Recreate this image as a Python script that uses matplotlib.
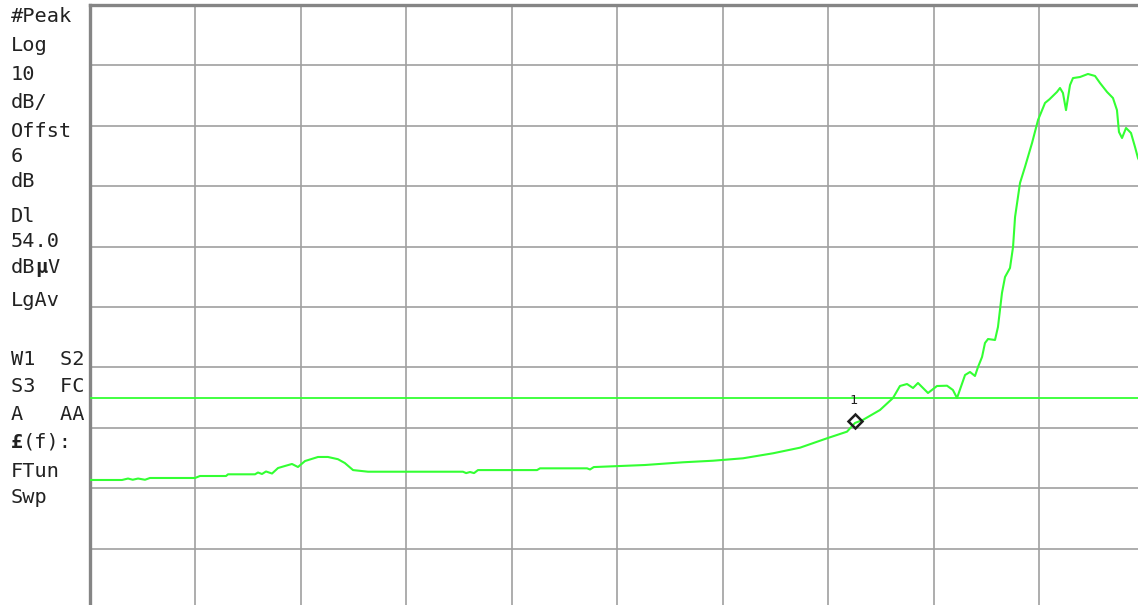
import matplotlib
matplotlib.use("Agg")
import matplotlib.pyplot as plt

# ---- data (x in screen divisions, y in dBµV) ----
freq_div = [0.0, 0.308, 0.365, 0.41, 0.46, 0.526, 0.573, 1.0, 1.047, 1.294, 1.313, 1.569,
            1.597, 1.635, 1.673, 1.73, 1.787, 1.853, 1.919, 1.976, 2.043, 2.166, 2.26,
            2.355, 2.42, 2.498, 2.64, 3.54, 3.57, 3.607, 3.645, 3.682, 4.242, 4.27, 4.716,
            4.744, 4.78, 5.265, 5.626, 5.91, 6.194, 6.479, 6.735, 6.99, 7.18, 7.256, 7.33,
            7.493, 7.616, 7.682, 7.749, 7.806, 7.853, 7.948, 8.033, 8.128, 8.184, 8.223,
            8.299, 8.346, 8.393, 8.422, 8.46, 8.488, 8.517, 8.583, 8.611, 8.649, 8.678,
            8.725, 8.754, 8.773, 8.82, 8.867, 8.934, 8.991, 9.057, 9.10, 9.17, 9.199,
            9.227, 9.256, 9.294, 9.322, 9.389, 9.464, 9.531, 9.578, 9.645, 9.701, 9.739,
            9.758, 9.787, 9.825, 9.872, 9.91, 9.938, 10.0]
level_dbuv = [40.36, 40.36, 40.6, 40.4, 40.6, 40.4, 40.69, 40.69, 41.02, 41.02, 41.30, 41.30,
              41.6, 41.35, 41.77, 41.43, 42.34, 42.68, 43.01, 42.51, 43.5, 44.17, 44.17,
              43.8, 43.17, 42.0, 41.73, 41.73, 41.5, 41.68, 41.5, 42.0, 42.0, 42.29, 42.29,
              42.1, 42.5, 42.84, 43.29, 43.55, 43.95, 44.78, 45.71, 47.26, 48.36, 49.8, 50.3,
              51.95, 53.93, 55.92, 56.25, 55.59, 56.42, 54.76, 55.92, 55.97, 55.26, 53.93,
              57.74, 58.24, 57.58, 59.07, 60.72, 63.04, 63.7, 63.54, 65.69, 71.32, 73.97,
              75.46, 78.94, 83.9, 89.53, 92.18, 96.15, 99.97, 102.78, 103.4, 104.6, 105.26,
              104.43, 101.6, 105.75, 106.9, 107.08, 107.58, 107.25, 106.09, 104.6, 103.6, 101.6,
              97.98, 96.98, 98.64, 97.81, 95.5, 93.67, 91.5]

display_line = 54.0
marker_x = 7.256
marker_y = 50.2
marker_label = "1"

ref_level = 119.0
db_per_div = 10.0
n_div = 10

side_labels = ["#Peak", "Log", "10", "dB/", "Offst", "6", "dB", "Dl", "54.0", None,
               "LgAv", "W1  S2", "S3  FC", "A   AA", None, "FTun", "Swp"]
side_baselines = [22, 51, 80, 108, 137, 162, 187, 222, 247, 273,
                  306, 365, 392, 420, 448, 477, 503]

W, H = 1138, 605
fig = plt.figure(figsize=(W / 100, H / 100), dpi=100)
fig.patch.set_facecolor("white")

left_px, top_px = 89.5, 5.0
div_w, div_h = 105.5, 60.4
ax = fig.add_axes([left_px / W, (H - top_px - n_div * div_h) / H,
                   n_div * div_w / W, n_div * div_h / H])
ax.set_xlim(0, n_div)
ax.set_ylim(ref_level - n_div * db_per_div, ref_level)
ax.set_xticks(range(0, n_div + 1))
ax.set_yticks([ref_level - k * db_per_div for k in range(n_div + 1)])
ax.tick_params(length=0, labelbottom=False, labelleft=False)
ax.grid(True, color="#a0a0a0", linewidth=1.2)
ax.set_axisbelow(True)
for s in ["left", "top"]:
    ax.spines[s].set_color("#858585")
    ax.spines[s].set_linewidth(2.4)
for s in ["right", "bottom"]:
    ax.spines[s].set_visible(False)

green = "#33ff33"
ax.axhline(display_line, color=green, linewidth=1.3, zorder=3)
ax.plot(freq_div, level_dbuv, color=green, linewidth=1.5, zorder=4)
ax.plot([marker_x], [marker_y], marker="D", ms=7, mfc="none", mec="#1e1e1e",
        mew=1.8, zorder=5, clip_on=False)
ax.annotate(marker_label, (marker_x, marker_y), xytext=(-1, 12), textcoords="offset points",
            ha="center", va="baseline", fontsize=9.5, color="#222222",
            family="DejaVu Sans Mono")

fs = 14.6
adv = 0.602 * fs * 100 / 72  # px per monospace char
x0 = 11
tc = "#222222"


def put(xpx, ypx, s, weight="normal"):
    fig.text(xpx / W, 1 - ypx / H, s, ha="left", va="baseline", fontsize=fs,
             family="DejaVu Sans Mono", color=tc, weight=weight)


for lab, yb in zip(side_labels, side_baselines):
    if lab is not None:
        put(x0, yb, lab)

# dBµV with bold µ
put(x0, 273, "dB")
put(x0 + 2 * adv, 273, "µ", weight="bold")
put(x0 + 3 * adv, 273, "V")
# £(f): with bold £
put(x0, 448, "£", weight="bold")
put(x0 + adv, 448, "(f):")

fig.savefig("out.png", dpi=100)
